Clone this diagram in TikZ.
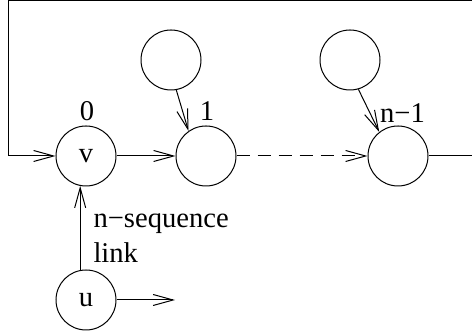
\documentclass[tikz,border=0pt]{standalone}
\usepackage{fontspec}
\setmainfont{Liberation Serif}
\usetikzlibrary{arrows.meta}
\newcommand{\ring}[4]{\node[shape=circle,draw,inner sep=0pt,minimum size=30pt] (#1) at ( #2 , #3 ) {#4};}
\newcommand{\lablnode}[4]{\node[shape=rectangle,draw=none,fill=none,inner sep=0pt] (#1) at ( #2 , #3 ) {#4};}

\begin{document}
\begin{tikzpicture}[x=0.5pt,y=0.5pt,line width=0.5pt,
    font=\fontsize{14.3}{17}\selectfont,
    >={Straight Barb[length=10pt,width=5.5pt]}]
        \useasboundingbox (0,0) rectangle (472,335);
        % rings
        \ring{v}{86}{179}{v}
        \ring{c1}{206}{179}{}
        \ring{t1}{171}{275}{}
        \ring{cn}{398}{179}{}
        \ring{tn}{350}{275}{}
        \ring{u}{86}{35}{u}

        % labels
        \lablnode{l0}{87}{223.5}{0}
        \lablnode{l1}{207}{223.5}{1}
        \lablnode{ln}{402.5}{221.5}{n−1}
        \node[anchor=base west,inner sep=0pt] (seq) at (93,107) {n−sequence};
        \node[anchor=base west,inner sep=0pt] (lnk) at (93,72) {link};

        % loop back
        \coordinate (ne) at (480,334.3);
        \coordinate (nw) at (8,334.3);
        \coordinate (out) at (175,35);

        \draw[->] (cn.east) -| (ne) -- (nw) |- (v.west);
        \draw[->] (v.east) -- (c1.west);
        \draw[->,dash pattern=on 6.5pt off 4pt] (c1.east) -- (cn.west);
        \draw[->] (t1.-80) -- (c1.125);
        \draw[->] (tn.-74) -- (cn.128);
        \draw[->] (u.101) -- (v.259);
        \draw[->] (u.east) -- (out);
\end{tikzpicture}
\end{document}
